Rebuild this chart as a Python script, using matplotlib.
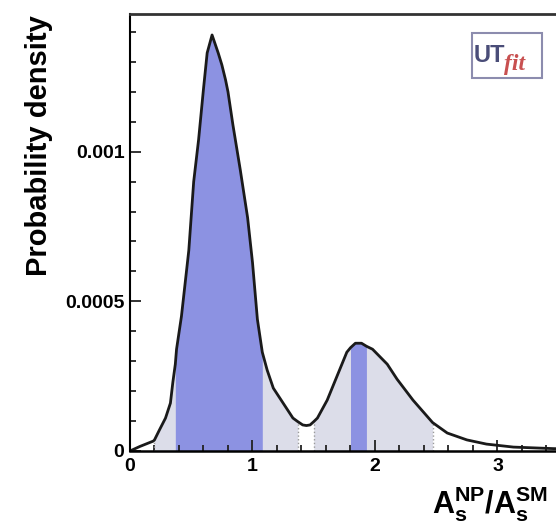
import matplotlib
matplotlib.use("Agg")
import matplotlib.pyplot as plt
import numpy as np
from matplotlib.patches import Rectangle

plt.rcParams["font.family"] = ["Liberation Sans", "DejaVu Sans"]
plt.rcParams["font.weight"] = "bold"
plt.rcParams["mathtext.fontset"] = "custom"
plt.rcParams["mathtext.bf"] = "Liberation Sans:bold"
plt.rcParams["mathtext.rm"] = "Liberation Sans:bold"
plt.rcParams["mathtext.default"] = "bf"

# posterior density of A_s^NP / A_s^SM (units of 1e-4)
ratio = np.array([0.00, 0.08, 0.19, 0.20, 0.24, 0.29, 0.33, 0.35, 0.37, 0.38,
                  0.42, 0.45, 0.48, 0.52, 0.56, 0.60, 0.63, 0.67, 0.72, 0.75,
                  0.78, 0.80, 0.84, 0.90, 0.96, 1.00, 1.04, 1.08, 1.12, 1.17,
                  1.25, 1.33, 1.37, 1.41, 1.44, 1.47, 1.50, 1.53, 1.61, 1.69,
                  1.77, 1.80, 1.84, 1.89, 1.93, 1.98, 2.10, 2.18, 2.31, 2.47,
                  2.59, 2.75, 2.91, 3.13, 3.45, 3.70])
density = np.array([0.0, 0.15, 0.33, 0.37, 0.7, 1.1, 1.6, 2.3, 2.9, 3.4,
                    4.5, 5.6, 6.7, 9.0, 10.4, 12.1, 13.3, 13.9, 13.3, 12.9,
                    12.4, 12.0, 10.9, 9.4, 7.8, 6.3, 4.4, 3.3, 2.7, 2.1,
                    1.6, 1.1, 0.98, 0.87, 0.85, 0.87, 0.98, 1.1, 1.7, 2.5,
                    3.3, 3.45, 3.6, 3.6, 3.5, 3.4, 2.9, 2.4, 1.7, 0.95,
                    0.6, 0.37, 0.23, 0.13, 0.08, 0.05]) * 1e-4

# credible intervals
ranges_95 = [(0.20, 1.37), (1.50, 2.47)]
ranges_68 = [(0.37, 1.08), (1.80, 1.93)]

y_ticks = [0, 0.0005, 0.001]
y_tick_labels = ["0", "0.0005", "0.001"]
x_ticks = [0, 1, 2, 3]
x_tick_labels = ["0", "1", "2", "3"]

light = "#dcdde9"
dark = "#8c92e2"

fig = plt.figure(figsize=(5.56, 5.31), dpi=100)
ax = fig.add_axes([0.2338, 0.1507, 0.80, 0.8229])

for lo, hi in ranges_95:
    m = (ratio >= lo) & (ratio <= hi)
    ax.fill_between(ratio[m], 0, density[m], color=light, lw=0)
    for b in (lo, hi):
        ax.vlines(b, 0, density[np.isclose(ratio, b)][0], colors="#9a9a9a",
                  linestyles=":", lw=1)
for lo, hi in ranges_68:
    m = (ratio >= lo) & (ratio <= hi)
    ax.fill_between(ratio[m], 0, density[m], color=dark, lw=0)

ax.plot(ratio, density, color="#1a1a1a", lw=2, solid_joinstyle="round")

ax.set_xlim(0, 0.80 * 556 / 122.5)
ax.set_ylim(0, 0.00146)

ax.set_xticks(x_ticks)
ax.set_xticklabels(x_tick_labels)
ax.set_xticks(np.arange(0, 3.61, 0.2), minor=True)
ax.set_yticks(y_ticks)
ax.set_yticklabels(y_tick_labels)
ax.set_yticks(np.arange(0, 0.00145, 0.0001), minor=True)

ax.tick_params(which="both", direction="in", labelsize=14, width=1.3, color="#222222")
ax.tick_params(which="major", length=8)
ax.tick_params(which="minor", length=4)
ax.tick_params(axis="y", pad=4)
ax.tick_params(axis="x", pad=5)
for lab in ax.get_xticklabels() + ax.get_yticklabels():
    lab.set_fontweight("bold")

ax.spines["right"].set_visible(False)
ax.spines["left"].set_linewidth(1.5)
ax.spines["bottom"].set_linewidth(1.8)
ax.spines["top"].set_linewidth(2)
ax.spines["top"].set_color("#333333")

fig.text(0.070, 0.972, "Probability density", rotation=90, ha="center", va="top",
         fontsize=21, fontweight="bold")
fig.text(432 / 556, 1 - 514 / 531, r"$A_s^{NP}/A_s^{SM}$", ha="left", va="baseline",
         fontsize=22)

# UTfit logo
fig.patches.append(Rectangle((472 / 556, 1 - 78 / 531), 70 / 556, 45 / 531,
                             transform=fig.transFigure, facecolor="white",
                             edgecolor="#8c8cae", lw=1.5))
fig.text(474 / 556, 1 - 62 / 531, "UT", ha="left", va="baseline", fontsize=17,
         fontweight="bold", color="#4a4d78")
fig.text(504 / 556, 1 - 70 / 531, "fit", ha="left", va="baseline", fontsize=17,
         family="Liberation Serif", style="italic", color="#c85050")

fig.savefig("out.png", dpi=100)
